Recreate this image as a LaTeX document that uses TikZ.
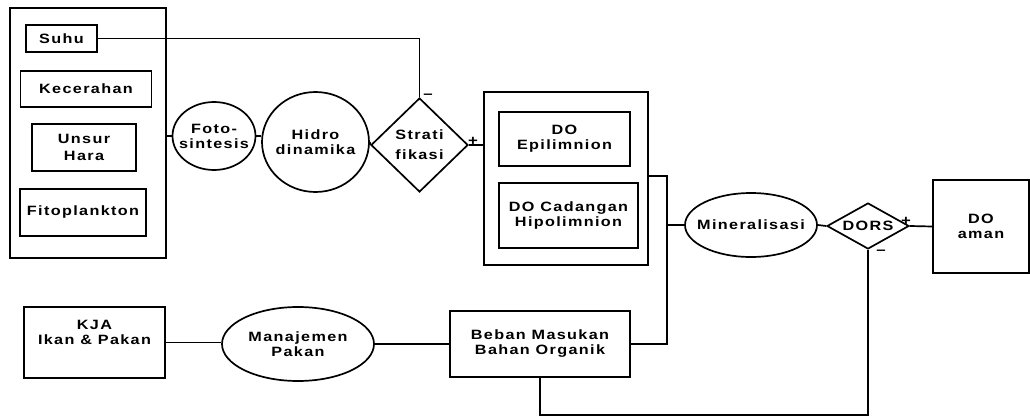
\documentclass[tikz,border=0pt]{standalone}
\usepackage{fontspec}
\setmainfont{Liberation Sans}[FakeStretch=1.2,LetterSpace=10]
\usetikzlibrary{shapes.geometric}
\tikzset{
  kotak/.style={draw,rectangle,line width=1.7pt,align=center,inner sep=0pt},
  bulat/.style={draw,ellipse,line width=1.7pt,inner sep=0pt},
  belah/.style={draw,diamond,line width=1.7pt,inner sep=0pt},
  isi/.style={align=center,inner sep=0pt},
  garis/.style={line width=1.7pt},
  tanda/.style={inner sep=0pt,font=\bfseries\fontsize{14}{14}\selectfont}
}
\begin{document}
\begin{tikzpicture}[x=1pt,y=-1pt,font=\bfseries\fontsize{13.5}{15}\selectfont]
  \useasboundingbox (0,0) rectangle (1030,417);
  % kelompok faktor
  \node [kotak,minimum width=156pt,minimum height=250pt] (faktor) at (88,133) {};
  \node [kotak,minimum width=71pt,minimum height=27pt] (suhu) at (61.5,38.5) {Suhu};
  \node [kotak,minimum width=131pt,minimum height=36pt] (cerah) at (86,89) {Kecerahan};
  \node [kotak,minimum width=104pt,minimum height=47pt] (hara) at (84,147.5) {Unsur\\[2pt]Hara};
  \node [kotak,minimum width=126pt,minimum height=47pt] (fito) at (83,212.5) {Fitoplankton};
  \node [bulat,minimum width=83pt,minimum height=68pt,
    label={[isi]center:Foto-\\sintesis}] (foto) at (214,136) {};
  \node [bulat,minimum width=107pt,minimum height=100pt,
    label={[isi]center:Hidro\\dinamika}] (hidro) at (315.5,142) {};
  \node [belah,minimum width=97pt,minimum height=94pt,aspect=1,
    label={[isi]center:Strati\\[5pt]fikasi}] (strati) at (419.5,145) {};
  % oksigen terlarut
  \node [kotak,minimum width=164pt,minimum height=173pt] (dobox) at (566,178.5) {};
  \node [kotak,minimum width=131pt,minimum height=54pt] (epi) at (564.5,139) {DO\\Epilimnion};
  \node [kotak,minimum width=139pt,minimum height=65pt] (hipo) at (568.5,215.5) {DO Cadangan\\Hipolimnion};
  \node [bulat,minimum width=132pt,minimum height=64pt,
    label={[isi]center:Mineralisasi}] (mineral) at (751,225) {};
  \node [belah,minimum width=82pt,minimum height=46pt,aspect=1.8,
    label={[isi]center:DORS}] (dors) at (868,226) {};
  \node [kotak,minimum width=96pt,minimum height=93pt] (aman) at (981,226.5) {DO\\aman};
  % beban organik
  \node [kotak,minimum width=141pt,minimum height=71pt] (kja) at (94.5,342.5) {KJA\\Ikan \& Pakan\\[6pt]};
  \node [bulat,minimum width=152pt,minimum height=74pt,
    label={[isi]center:Manajemen\\Pakan}] (pakan) at (298,344) {};
  \node [kotak,minimum width=180pt,minimum height=66pt] (beban) at (540,344) {Beban Masukan\\Bahan Organik};
  \coordinate (simpul) at (667,176);
  \coordinate (bawah) at (868,415);

  \draw [garis] (suhu.east) -| (strati.north);
  \draw [garis] (faktor.east |- foto.west) -- (foto.west);
  \draw [garis] (foto.east) -- (hidro.west |- foto.east);
  \draw [garis] (hidro.east) -- (strati.west);
  \draw [garis] (strati.east) -- (strati.east -| dobox.west);
  \draw [garis] (dobox.east |- simpul) -- (simpul) -- (simpul |- beban.east) -- (beban.east);
  \draw [garis] (simpul |- mineral.west) -- (mineral.west);
  \draw [garis] (mineral.east) -- (dors.west);
  \draw [garis] (dors.east) -- (aman.west);
  \draw [garis] (dors.south) -- (bawah) -| (beban.south);
  \draw [garis] (kja.east) -- (kja.east -| pakan.west);
  \draw [garis] (pakan.east) -- (beban.west);
  \node [tanda] (minus1) at (428,96) {--};
  \node [tanda] (plus1) at (473,141) {+};
  \node [tanda] (plus2) at (906,221) {+};
  \node [tanda] (minus2) at (881,252) {--};
\end{tikzpicture}
\end{document}
